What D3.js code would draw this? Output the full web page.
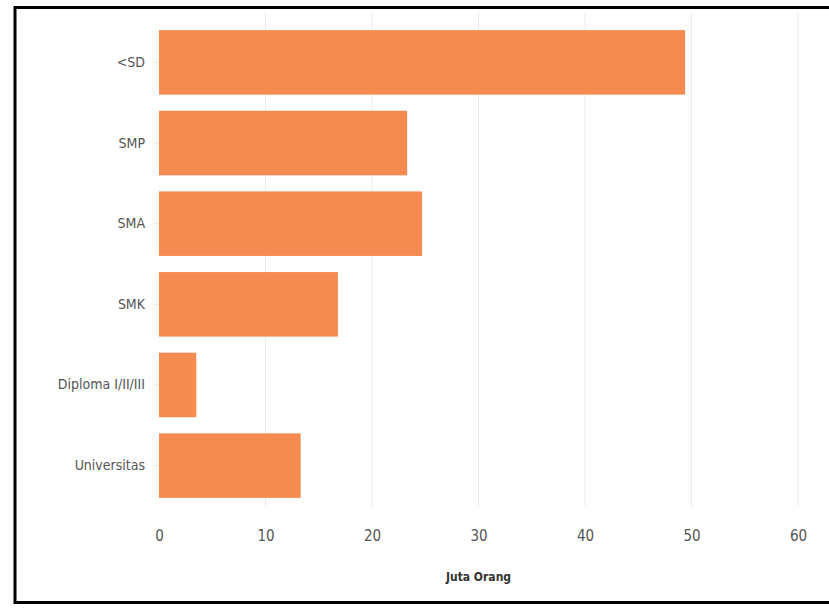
<!DOCTYPE html>
<html>
<head>
<meta charset="utf-8">
<script src="https://cdn.jsdelivr.net/npm/d3@7"></script>
<style>
  body { margin: 0; background: #fff; }
  text { font-family: "DejaVu Sans Condensed", "DejaVu Sans", sans-serif; }
</style>
</head>
<body>
<div id="chart"></div>
<script>
const categories = ["<SD", "SMP", "SMA", "SMK", "Diploma I/II/III", "Universitas"];
const values = [49.4, 23.3, 24.7, 16.8, 3.5, 13.3];
const xTicks = [0, 10, 20, 30, 40, 50, 60];
const xTitle = "Juta Orang";

function init() {
  const W = 829, H = 608;
  const margin = { top: 14, left: 159, right: 31, bottom: 94 };
  const width = W - margin.left - margin.right,
    height = H - margin.top - margin.bottom;
  const font = '"DejaVu Sans Condensed", "DejaVu Sans", sans-serif';

  const svg = d3.select("#chart").append("svg")
    .attr("width", W).attr("height", H);

  // frame
  svg.append("rect")
    .attr("x", 15).attr("y", 7.5)
    .attr("width", 830).attr("height", 595)
    .attr("fill", "none").attr("stroke", "#000").attr("stroke-width", 3);

  const g = svg.append("g").attr("transform", `translate(${margin.left},${margin.top})`);

  const x = d3.scaleLinear().domain([0, 60]).range([0, width]);
  const y = d3.scaleBand().domain(categories).range([0, height]).padding(0.2);

  // grid
  g.append("g").selectAll("line").data(xTicks.slice(1)).join("line")
    .attr("x1", d => x(d)).attr("x2", d => x(d))
    .attr("y1", -2).attr("y2", height - 8)
    .attr("stroke", "#ececec").attr("stroke-width", 1);

  g.append("g").selectAll("rect").data(categories).join("rect")
    .attr("x", 0)
    .attr("y", d => y(d))
    .attr("width", (d, i) => x(values[i]))
    .attr("height", y.bandwidth())
    .attr("fill", "#f58b50");

  // y labels
  const yAxis = g.append("g").call(d3.axisLeft(y).tickSize(4).tickPadding(10));
  yAxis.select(".domain").remove();
  yAxis.selectAll("line").attr("stroke", "#e2e2e2");
  yAxis.selectAll("text").attr("font-size", 14).attr("fill", "#555")
    .style("font-family", font);

  // x axis
  const xAxis = g.append("g").attr("transform", `translate(0,${height})`)
    .call(d3.axisBottom(x).tickValues(xTicks).tickSize(0).tickPadding(16));
  xAxis.select(".domain").remove();
  xAxis.selectAll("text").attr("font-size", 15).attr("fill", "#555")
    .style("font-family", font);

  g.append("text")
    .attr("x", x(30)).attr("y", height + 67)
    .attr("text-anchor", "middle")
    .attr("font-size", 12).attr("font-weight", "bold").attr("fill", "#333")
    .text(xTitle);
}

window.addEventListener("load", init);
</script>
</body>
</html>
